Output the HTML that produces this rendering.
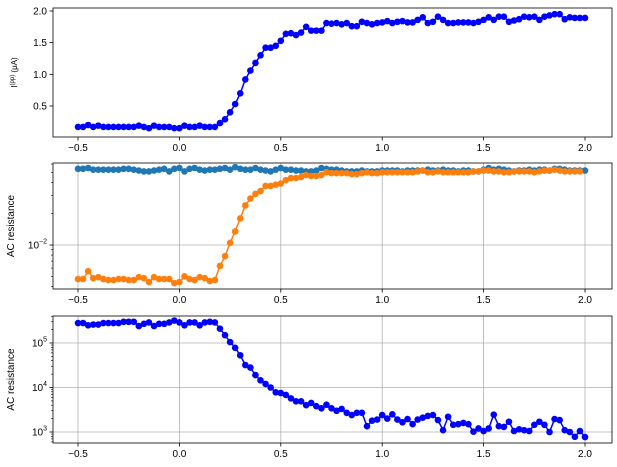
<!DOCTYPE html>
<html><head><meta charset="utf-8"><style>
html,body{margin:0;padding:0;background:#fff;}
svg{display:block;font-family:"Liberation Sans","DejaVu Sans",sans-serif;}
</style></head><body>
<svg id="fig" width="617" height="467" viewBox="0 0 617 467" xmlns="http://www.w3.org/2000/svg"></svg>
<script>
const xTicks = [-0.5, 0, 0.5, 1.0, 1.5, 2.0];
const xTickLabels = ["\u22120.5", "0.0", "0.5", "1.0", "1.5", "2.0"];
const xStart = -0.5, xStep = 0.025;
const currentVals = [0.17,0.17,0.2,0.17,0.19,0.17,0.17,0.17,0.17,0.17,0.17,0.17,0.19,0.17,0.15,0.19,0.17,0.17,0.17,0.15,0.15,0.19,0.17,0.17,0.19,0.17,0.17,0.17,
0.23,0.29,0.4,0.53,0.7,0.92,1.06,1.18,1.3,1.42,1.42,1.45,1.53,
1.64,1.65,1.62,1.66,1.75,1.69,1.69,1.69,
1.81,1.8,1.81,1.79,1.81,1.76,1.76,1.83,1.81,1.79,1.81,1.82,
1.84,1.81,1.83,1.84,1.82,1.82,1.86,1.9,1.81,1.83,1.91,1.86,
1.81,1.81,1.82,1.82,1.82,1.81,1.83,1.86,1.9,1.86,1.91,1.91,
1.83,1.85,1.87,1.91,1.9,1.91,1.86,1.91,1.93,1.95,1.95,1.87,1.9,1.89,1.89,1.89];
const acBlueVals = [0.054,0.054,0.055,0.053,0.053,0.053,0.053,0.053,0.053,0.054,0.054,0.053,0.052,0.051,0.051,0.052,0.053,0.054,0.051,0.054,0.055,0.051,0.054,0.055,0.053,0.052,0.053,0.053,0.054,0.055,0.053,0.056,0.054,0.053,0.053,0.055,0.053,0.052,0.051,0.053,0.055,
0.053,0.053,0.052,0.052,0.051,0.051,0.052,0.055,0.054,0.053,0.053,0.052,0.051,0.051,0.051,0.052,0.051,0.051,0.051,0.052,0.052,0.052,0.052,0.051,0.052,0.052,0.052,0.052,0.053,0.052,0.052,0.053,0.052,0.052,0.051,0.052,0.052,0.051,0.051,0.053,0.055,0.053,0.054,0.053,0.052,0.051,0.052,0.052,0.053,0.052,0.053,0.053,0.052,0.054,0.054,0.053,0.052,0.052,0.052,0.052];
const acOrangeVals = [0.0047,0.0047,0.0056,0.0048,0.0049,0.0047,0.0046,0.0046,0.0047,0.0047,0.0046,0.0046,0.0049,0.0048,0.0044,0.0049,0.0047,0.0047,0.0047,0.0043,0.0044,0.0050,0.0047,0.0046,0.0049,0.0048,0.0045,0.0046,
0.0063,0.0078,0.0105,0.0135,0.018,0.024,0.028,0.031,0.033,0.037,0.037,0.038,0.039,
0.042,0.044,0.044,0.045,0.047,0.046,0.046,0.047,0.050,0.049,0.049,0.049,0.049,0.048,0.048,0.049,0.050,0.049,0.049,0.050,0.050,0.050,0.050,0.050,0.050,0.050,0.051,0.052,0.050,0.050,0.051,0.050,0.050,0.050,0.050,0.050,0.050,0.051,0.051,0.052,0.052,0.051,0.051,0.050,0.050,0.051,0.051,0.051,0.051,0.050,0.051,0.052,0.052,0.053,0.052,0.051,0.051,0.051,0.051];
const resVals = [2.8e5,2.8e5,2.5e5,2.6e5,2.6e5,2.8e5,2.8e5,2.8e5,2.8e5,3.0e5,3.0e5,3.0e5,2.4e5,2.7e5,2.9e5,2.4e5,2.7e5,2.7e5,2.9e5,3.2e5,2.9e5,2.5e5,2.9e5,2.9e5,2.5e5,2.9e5,3.0e5,2.9e5,
2.1e5,1.5e5,1.05e5,7.8e4,5.3e4,3.2e4,2.8e4,1.9e4,1.45e4,1.2e4,1.0e4,7.8e3,7.5e3,6.8e3,5.7e3,4.9e3,4.9e3,4.0e3,4.5e3,3.8e3,3.4e3,4.1e3,3.4e3,3.0e3,3.3e3,2.7e3,2.4e3,2.7e3,2.7e3,
1.35e3,1.8e3,1.9e3,2.4e3,2.0e3,2.5e3,1.9e3,1.65e3,1.95e3,1.5e3,1.9e3,2.1e3,2.3e3,2.4e3,1.85e3,1.1e3,2.2e3,1.45e3,1.5e3,1.6e3,1.5e3,1.02e3,1.2e3,1.05e3,1.2e3,
2.45e3,1.35e3,1.3e3,1.7e3,1.05e3,1.15e3,1.1e3,1.05e3,1.45e3,1.7e3,1.45e3,1.0e3,1.95e3,1.85e3,1.1e3,1.0e3,0.78e3,1.05e3,0.77e3];
const p1YTicks = [0.5, 1.0, 1.5, 2.0];
const p1YLabels = ["0.5", "1.0", "1.5", "2.0"];

const NS = "http://www.w3.org/2000/svg";
const svg = document.getElementById('fig');
function mk(tag, attrs, parent) {
  const e = document.createElementNS(NS, tag);
  for (const k in attrs) e.setAttribute(k, attrs[k]);
  (parent || svg).appendChild(e);
  return e;
}
const L = 53, R = 612;
const xs = v => 78 + (v + 0.5) * (585 - 78) / 2.5;

function panel(name, top, bot, ymap, yticks, ylabels, grid, minorTicks, ylabel, ylabelSize) {
  const g = mk('g', {});
  
  
  if (grid) {
    xTicks.forEach(t => {
      const l = mk('line', {x1: xs(t), x2: xs(t), y1: top, y2: bot, stroke: '#b0b0b0', 'stroke-width': 0.8}, g);
      
      
    });
    yticks.forEach(t => {
      const l = mk('line', {x1: L, x2: R, y1: ymap(t), y2: ymap(t), stroke: '#b0b0b0', 'stroke-width': 0.8}, g);
      
      
    });
  }
  xTicks.forEach((t, i) => {
    mk('line', {x1: xs(t), x2: xs(t), y1: bot, y2: bot + 3.5, stroke: '#000', 'stroke-width': 0.8}, g);
    const tx = mk('text', {x: xs(t), y: bot + 14, 'font-size': 10, 'text-anchor': 'middle', fill: '#000'}, g);
    tx.textContent = xTickLabels[i];
    
    
  });
  yticks.forEach((t, i) => {
    const y = ymap(t);
    mk('line', {x1: L - 3.5, x2: L, y1: y, y2: y, stroke: '#000', 'stroke-width': 0.8}, g);
    const tx = mk('text', {x: L - 6, y: y + 3.5, 'font-size': 10, 'text-anchor': 'end', fill: '#000'}, g);
    tx.innerHTML = ylabels[i];
    
    
  });
  (minorTicks || []).forEach(t => {
    const y = ymap(t);
    if (y > top && y < bot) mk('line', {x1: L - 2, x2: L, y1: y, y2: y, stroke: '#000', 'stroke-width': 0.6}, g);
  });
  const cy = (top + bot) / 2;
  const yl = mk('text', {x: ylabelSize < 9 ? 17 : 14, y: cy, 'font-size': ylabelSize, 'text-anchor': 'middle', transform: `rotate(-90 ${ylabelSize < 9 ? 17 : 14} ${cy})`, fill: '#000'}, g);
  yl.innerHTML = ylabel;
  
  
  return g;
}
function series(g, vals, ymap, color, name) {
  const pts = vals.map((v, i) => [xs(xStart + i * xStep), ymap(v)]);
  const pl = mk('polyline', {points: pts.map(p => p.join(',')).join(' '), fill: 'none', stroke: color, 'stroke-width': 1.5}, g);
  
  
  pts.forEach(p => {
    const c = mk('circle', {cx: p[0], cy: p[1], r: 3.3, fill: color}, g);
    
    
  });
}
function frame(g, top, bot) {
  const r = mk('rect', {x: L, y: top, width: R - L, height: bot - top, fill: 'none', stroke: '#000', 'stroke-width': 0.8}, g);
  
  
}

// Panel 1
const y1 = v => 11 + (2.0 - v) * (106 - 11) / 1.5;
const g1 = panel('current-panel', 8, 137, y1, p1YTicks, p1YLabels, false, null, 'I<tspan font-size="6" dy="-3">(pp)</tspan><tspan dy="3"> (\u03bcA)</tspan>', 8);
series(g1, currentVals, y1, '#0000ff', 'current');
frame(g1, 8, 137);

// Panel 2
const y2 = v => 245 - (Math.log10(v) + 2) * 104;
const minor2 = [];
for (let d = -3; d <= -1; d++) for (let m = 2; m <= 9; m++) minor2.push(m * Math.pow(10, d));
const g2 = panel('ac-resistance-panel-1', 163, 289, y2, [0.01], ['10<tspan font-size="7" dy="-5">\u22122</tspan>'], true, minor2, 'AC resistance', 10);
series(g2, acBlueVals, y2, '#1f77b4', 'ac-blue');
series(g2, acOrangeVals, y2, '#ff7f0e', 'ac-orange');
frame(g2, 163, 289);

// Panel 3
const y3 = v => 343 - (Math.log10(v) - 5) * 44.5;
const minor3 = [];
for (let d = 2; d <= 5; d++) for (let m = 2; m <= 9; m++) minor3.push(m * Math.pow(10, d));
const g3 = panel('ac-resistance-panel-2', 316, 443, y3, [1e3, 1e4, 1e5], ['10<tspan font-size="7" dy="-5">3</tspan>', '10<tspan font-size="7" dy="-5">4</tspan>', '10<tspan font-size="7" dy="-5">5</tspan>'], true, minor3, 'AC resistance', 10);
series(g3, resVals, y3, '#0000ff', 'resistance');
frame(g3, 316, 443);
</script>
</body></html>
